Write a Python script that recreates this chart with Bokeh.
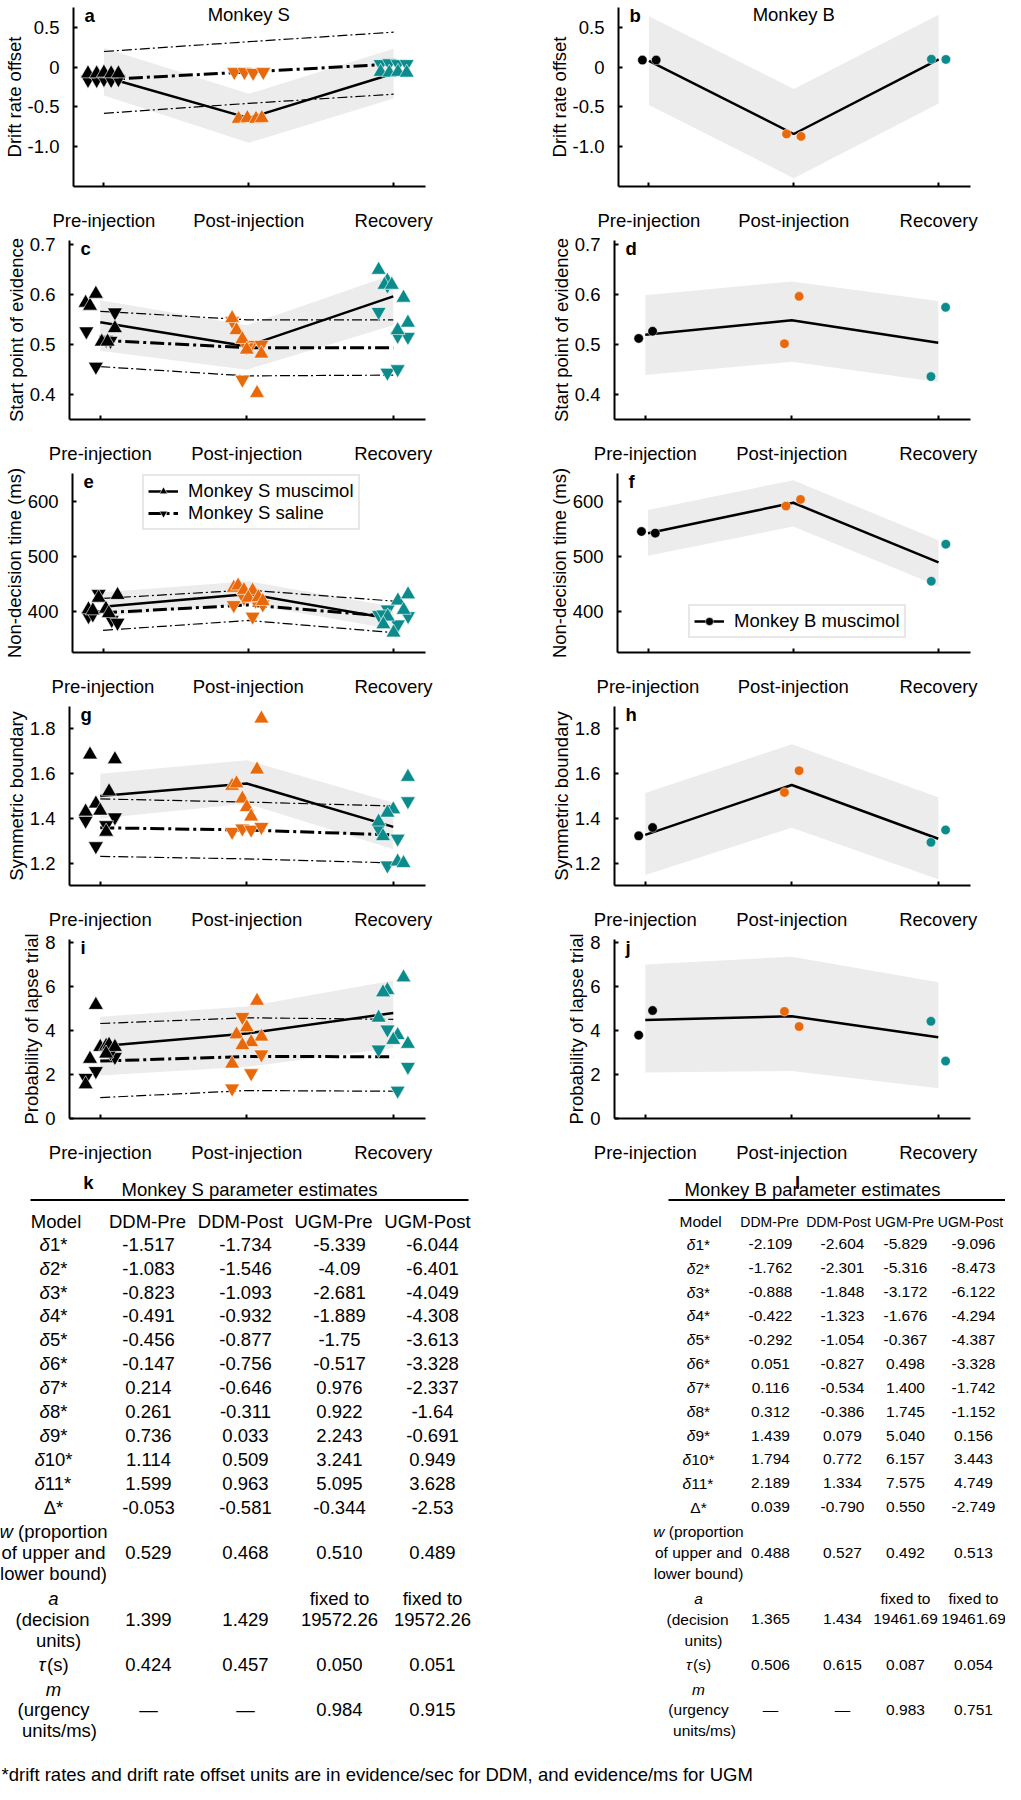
from bokeh.plotting import figure
from bokeh.models import Range1d, FixedTicker, Label, Legend, LegendItem
from bokeh.layouts import column, row
from bokeh.embed import file_html
from bokeh.resources import INLINE
from bokeh.core.properties import value

FONT = "Liberation Sans"
FS = "18.5px"
PHASE_COLORS = {1: "#000000", 2: "#e8690b", 3: "#0b8b8b"}
BAND = "#ececec"

phase_x = [1, 2, 3]
phase_labels = ["Pre-injection", "Post-injection", "Recovery"]

# ---------------- Monkey S panels (a, c, e, g, i) ----------------
a_mus_mean = [-0.12, -0.64, -0.08]
a_mus_lo = [-0.355, -0.95, -0.395]
a_mus_hi = [0.24, -0.335, 0.23]
a_sal_mean = [-0.155, -0.06, 0.04]
a_sal_lo = [-0.58, -0.455, -0.34]
a_sal_hi = [0.197, 0.32, 0.44]
a_mus_phase = [1, 1, 1, 1, 1, 2, 2, 2, 2, 3, 3, 3, 3]
a_mus_jit = [-0.11, -0.05, 0.0, 0.05, 0.10, -0.07, -0.01, 0.05, 0.09, -0.09, -0.03, 0.03, 0.09]
a_mus_val = [-0.08, -0.08, -0.07, -0.08, -0.08, -0.65, -0.64, -0.65, -0.64, -0.06, -0.07, -0.06, -0.07]
a_sal_phase = [1, 1, 1, 1, 1, 2, 2, 2, 2, 3, 3, 3, 3]
a_sal_jit = [-0.11, -0.05, 0.0, 0.05, 0.10, -0.10, -0.03, 0.03, 0.10, -0.09, -0.03, 0.03, 0.09]
a_sal_val = [-0.16, -0.16, -0.15, -0.16, -0.15, -0.06, -0.06, -0.07, -0.06, 0.04, 0.05, 0.04, 0.04]

c_mus_mean = [0.545, 0.497, 0.597]
c_mus_lo = [0.488, 0.45, 0.539]
c_mus_hi = [0.589, 0.539, 0.641]
c_sal_mean = [0.509, 0.494, 0.494]
c_sal_lo = [0.456, 0.4375, 0.439]
c_sal_hi = [0.567, 0.55, 0.55]
c_mus_phase = [1, 1, 1, 1, 1, 1, 2, 2, 2, 2, 2, 2, 3, 3, 3, 3, 3, 3, 3]
c_mus_jit = [-0.10, -0.07, -0.03, 0.10, 0.01, 0.05, -0.10, -0.07, -0.03, 0.0, 0.10, 0.07,
             -0.10, -0.04, -0.06, -0.01, 0.07, 0.10, 0.03]
c_mus_val = [0.584, 0.578, 0.602, 0.533, 0.506, 0.506, 0.553, 0.529, 0.511, 0.49, 0.482, 0.403,
             0.65, 0.628, 0.62, 0.62, 0.594, 0.544, 0.529]
c_sal_phase = [1, 1, 1, 1, 1, 2, 2, 2, 2, 2, 3, 3, 3, 3, 3, 3]
c_sal_jit = [-0.095, 0.10, -0.03, 0.04, 0.07, -0.10, 0.03, 0.10, -0.03, 0.0, -0.04, -0.10, 0.03, 0.10, -0.04, 0.03]
c_sal_val = [0.527, 0.565, 0.456, 0.51, 0.508, 0.548, 0.5, 0.5, 0.43, 0.495, 0.619, 0.566, 0.518, 0.516, 0.444, 0.451]

e_mus_mean = [409, 432, 386]
e_mus_lo = [391, 414, 368]
e_mus_hi = [435, 455, 409]
e_sal_mean = [398, 412, 391]
e_sal_lo = [366, 384, 362]
e_sal_hi = [424, 439, 419]
e_mus_phase = [1, 1, 1, 1, 1, 1, 2, 2, 2, 2, 2, 2, 2, 3, 3, 3, 3, 3, 3]
e_mus_jit = [-0.03, 0.10, -0.10, -0.07, 0.02, 0.04, -0.10, -0.07, -0.03, 0.03, 0.0, 0.07, 0.10,
             0.03, 0.10, 0.07, -0.04, 0.0, -0.07]
e_mus_val = [425, 430, 404, 402, 405, 397, 443, 447, 439, 438, 425, 426, 419,
             420, 431, 403, 391, 362, 377]
e_sal_phase = [1, 1, 1, 1, 1, 2, 2, 2, 2, 2, 3, 3, 3, 3, 3]
e_sal_jit = [-0.03, -0.10, -0.07, 0.06, 0.10, -0.10, -0.03, 0.10, 0.03, 0.05, -0.10, -0.04, 0.10, 0.03, -0.07]
e_sal_val = [432, 392, 395, 385, 380, 412, 425, 413, 391, 420, 394, 404, 392, 377, 395]

g_mus_mean = [1.50, 1.556, 1.362]
g_mus_lo = [1.40, 1.466, 1.262]
g_mus_hi = [1.60, 1.66, 1.47]
g_sal_mean = [1.358, 1.348, 1.326]
g_sal_lo = [1.23, 1.219, 1.201]
g_sal_hi = [1.487, 1.473, 1.455]
g_mus_phase = [1, 1, 1, 1, 1, 1, 1, 2, 2, 2, 2, 2, 2, 2, 3, 3, 3, 3, 3, 3, 3]
g_mus_jit = [-0.07, 0.10, 0.06, -0.03, 0.0, -0.10, 0.04, 0.10, 0.07, -0.10, -0.07, -0.03, 0.0, 0.03,
             0.10, 0.0, -0.04, -0.10, -0.07, 0.03, 0.07]
g_mus_val = [1.685, 1.664, 1.52, 1.466, 1.434, 1.43, 1.34, 1.846, 1.618, 1.545, 1.556, 1.488, 1.45, 1.408,
             1.585, 1.44, 1.425, 1.385, 1.32, 1.207, 1.2]
g_sal_phase = [1, 1, 1, 1, 2, 2, 2, 2, 3, 3, 3, 3]
g_sal_jit = [-0.10, 0.10, 0.04, -0.03, -0.10, -0.03, 0.03, 0.10, 0.10, -0.10, 0.03, -0.04]
g_sal_val = [1.39, 1.405, 1.37, 1.276, 1.34, 1.355, 1.35, 1.362, 1.477, 1.355, 1.31, 1.19]

i_mus_mean = [3.29, 3.86, 4.8]
i_mus_lo = [1.95, 2.35, 3.21]
i_mus_hi = [4.63, 5.09, 6.28]
i_sal_mean = [2.61, 2.82, 2.81]
i_sal_lo = [0.95, 1.27, 1.24]
i_sal_hi = [4.32, 4.58, 4.51]
i_mus_phase = [1, 1, 1, 1, 1, 1, 1, 1, 2, 2, 2, 2, 2, 2, 2, 3, 3, 3, 3, 3, 3, 3]
i_mus_jit = [-0.03, -0.07, -0.10, 0.0, 0.04, 0.06, 0.10, 0.04, 0.07, 0.0, -0.07, 0.10, 0.03, -0.03, -0.10,
             0.07, -0.04, -0.07, -0.10, 0.03, 0.0, 0.10]
i_mus_val = [5.16, 2.71, 1.55, 3.25, 3.3, 3.35, 3.25, 2.95, 5.35, 4.14, 3.82, 3.72, 3.47, 3.33, 2.49,
             6.41, 5.84, 5.73, 4.58, 3.79, 3.57, 3.39]
i_sal_phase = [1, 1, 1, 1, 2, 2, 2, 2, 3, 3, 3, 3]
i_sal_jit = [-0.03, -0.10, 0.10, 0.07, -0.03, 0.10, 0.03, -0.10, -0.04, -0.10, 0.10, 0.03]
i_sal_val = [2.16, 1.85, 2.8, 3.0, 4.62, 2.92, 2.06, 1.37, 4.05, 3.14, 2.35, 1.27]

# ---------------- Monkey B panels (b, d, f, h, j) ----------------
B_phase = [1, 1, 2, 2, 3, 3]
B_jit = [-0.045, 0.05, -0.05, 0.05, -0.05, 0.05]

b_mean = [0.08, -0.84, 0.097]
b_lo = [-0.476, -1.395, -0.456]
b_hi = [0.64, -0.274, 0.66]
b_val = [0.089, 0.089, -0.84, -0.87, 0.10, 0.097]

d_mean = [0.52, 0.549, 0.504]
d_lo = [0.439, 0.466, 0.425]
d_hi = [0.599, 0.627, 0.5875]
d_val = [0.5125, 0.527, 0.502, 0.597, 0.436, 0.575]

f_mean = [542, 597, 489]
f_lo = [501, 554, 446]
f_hi = [584, 638, 529]
f_val = [545, 542, 591, 603, 455, 522]

h_mean = [1.326, 1.549, 1.309]
h_lo = [1.147, 1.358, 1.128]
h_hi = [1.513, 1.731, 1.494]
h_val = [1.322, 1.359, 1.516, 1.613, 1.293, 1.348]

j_mean = [4.48, 4.65, 3.69]
j_lo = [2.09, 2.16, 1.37]
j_hi = [7.0, 7.36, 6.2]
j_val = [3.79, 4.91, 4.87, 4.18, 4.42, 2.61]

# axes
y_labels = ["Drift rate offset", "Start point of evidence", "Non-decision time (ms)",
            "Symmetric boundary", "Probability of lapse trial"]
y_ranges = [(-1.5, 0.75), (0.35, 0.709), (326, 650), (1.1, 1.9), (0, 8.14)]
y_ticks = [[-1.0, -0.5, 0.0, 0.5], [0.4, 0.5, 0.6, 0.7], [400, 500, 600], [1.2, 1.4, 1.6, 1.8], [0, 2, 4, 6, 8]]
y_tick_text = [["-1.0", "-0.5", "0", "0.5"], ["0.4", "0.5", "0.6", "0.7"], ["400", "500", "600"],
               ["1.2", "1.4", "1.6", "1.8"], ["0", "2", "4", "6", "8"]]

# ---------------- tables ----------------
col_names = ["DDM-Pre", "DDM-Post", "UGM-Pre", "UGM-Post"]
s_delta = [
    ["-1.517", "-1.734", "-5.339", "-6.044"],
    ["-1.083", "-1.546", "-4.09", "-6.401"],
    ["-0.823", "-1.093", "-2.681", "-4.049"],
    ["-0.491", "-0.932", "-1.889", "-4.308"],
    ["-0.456", "-0.877", "-1.75", "-3.613"],
    ["-0.147", "-0.756", "-0.517", "-3.328"],
    ["0.214", "-0.646", "0.976", "-2.337"],
    ["0.261", "-0.311", "0.922", "-1.64"],
    ["0.736", "0.033", "2.243", "-0.691"],
    ["1.114", "0.509", "3.241", "0.949"],
    ["1.599", "0.963", "5.095", "3.628"]]
s_Delta = ["-0.053", "-0.581", "-0.344", "-2.53"]
s_w = ["0.529", "0.468", "0.510", "0.489"]
s_a = ["1.399", "1.429", "19572.26", "19572.26"]
s_tau = ["0.424", "0.457", "0.050", "0.051"]
s_m = ["\u2014", "\u2014", "0.984", "0.915"]

b_delta = [
    ["-2.109", "-2.604", "-5.829", "-9.096"],
    ["-1.762", "-2.301", "-5.316", "-8.473"],
    ["-0.888", "-1.848", "-3.172", "-6.122"],
    ["-0.422", "-1.323", "-1.676", "-4.294"],
    ["-0.292", "-1.054", "-0.367", "-4.387"],
    ["0.051", "-0.827", "0.498", "-3.328"],
    ["0.116", "-0.534", "1.400", "-1.742"],
    ["0.312", "-0.386", "1.745", "-1.152"],
    ["1.439", "0.079", "5.040", "0.156"],
    ["1.794", "0.772", "6.157", "3.443"],
    ["2.189", "1.334", "7.575", "4.749"]]
b_Delta = ["0.039", "-0.790", "0.550", "-2.749"]
b_w = ["0.488", "0.527", "0.492", "0.513"]
b_a = ["1.365", "1.434", "19461.69", "19461.69"]
b_tau = ["0.506", "0.615", "0.087", "0.054"]
b_m = ["\u2014", "\u2014", "0.983", "0.751"]

footnote = "*drift rates and drift rate offset units are in evidence/sec for DDM, and evidence/ms for UGM"

# ---------------- layout constants ----------------
ROW_H = 233
BL, BT, BB = 69, 7, 45
FRAME_W = 356
FRAME_H = ROW_H - BT - BB
LEFT_W, RIGHT_W = 545, 460


def base_fig(width, rb, k, letter):
    p = figure(width=width, height=ROW_H, x_range=Range1d(0.79, 3.22), y_range=Range1d(*y_ranges[k]),
               output_backend="svg", toolbar_location=None,
               min_border_left=BL, min_border_right=rb, min_border_top=BT, min_border_bottom=BB)
    p.outline_line_color = None
    p.xgrid.visible = False
    p.ygrid.visible = False
    for ax in (p.xaxis[0], p.yaxis[0]):
        ax.axis_line_width = 2
        ax.axis_line_color = "black"
        ax.major_tick_line_width = 2
        ax.major_tick_line_color = "black"
        ax.major_tick_in = 4
        ax.major_tick_out = 0
        ax.minor_tick_line_color = None
        ax.major_label_text_font = FONT
        ax.major_label_text_font_size = FS
        ax.major_label_text_color = "black"
    p.xaxis.ticker = FixedTicker(ticks=phase_x)
    p.xaxis.major_label_overrides = {x: l for x, l in zip(phase_x, phase_labels)}
    p.xaxis.major_label_standoff = 23
    p.yaxis.ticker = FixedTicker(ticks=y_ticks[k])
    p.yaxis.major_label_overrides = {t: l for t, l in zip(y_ticks[k], y_tick_text[k])}
    p.yaxis.major_label_standoff = 14
    p.yaxis.axis_label = y_labels[k]
    p.yaxis.axis_label_text_font = FONT
    p.yaxis.axis_label_text_font_size = FS
    p.yaxis.axis_label_text_font_style = "normal"
    p.yaxis.axis_label_text_color = "black"
    p.yaxis.axis_label_standoff = 0
    p.add_layout(Label(x=11, y=FRAME_H - 10, x_units="screen", y_units="screen", text=letter,
                       text_font=FONT, text_font_size=FS, text_font_style="bold", text_color="black",
                       text_baseline="middle", text_align="left"))
    return p


def draw_S(p, mm, ml, mh, sm, sl, sh, mph, mj, mv, sph, sj, sv):
    p.varea(x=phase_x, y1=ml, y2=mh, fill_color=BAND)
    p.line(phase_x, sh, line_color="black", line_width=1.2, line_dash="10 3 2 3")
    p.line(phase_x, sl, line_color="black", line_width=1.2, line_dash="10 3 2 3")
    r_sal = p.line(phase_x, sm, line_color="black", line_width=3, line_dash="14 4 3 4")
    r_mus = p.line(phase_x, mm, line_color="black", line_width=2.5)
    s_sal = p.scatter(x=[a + b for a, b in zip(sph, sj)], y=sv, marker="inverted_triangle", size=15,
                      fill_color=[PHASE_COLORS[q] for q in sph], line_color="white", line_width=0.6)
    s_mus = p.scatter(x=[a + b for a, b in zip(mph, mj)], y=mv, marker="triangle", size=15,
                      fill_color=[PHASE_COLORS[q] for q in mph], line_color="white", line_width=0.6)
    return r_mus, s_mus, r_sal, s_sal


def draw_B(p, mean, lo, hi, vals):
    p.varea(x=phase_x, y1=lo, y2=hi, fill_color=BAND)
    r = p.line(phase_x, mean, line_color="black", line_width=2.5)
    s = p.scatter(x=[a + b for a, b in zip(B_phase, B_jit)], y=vals, marker="circle", size=9.5,
                  fill_color=[PHASE_COLORS[q] for q in B_phase], line_color="white", line_width=0.5)
    return r, s


S_data = [
    (a_mus_mean, a_mus_lo, a_mus_hi, a_sal_mean, a_sal_lo, a_sal_hi, a_mus_phase, a_mus_jit, a_mus_val, a_sal_phase, a_sal_jit, a_sal_val),
    (c_mus_mean, c_mus_lo, c_mus_hi, c_sal_mean, c_sal_lo, c_sal_hi, c_mus_phase, c_mus_jit, c_mus_val, c_sal_phase, c_sal_jit, c_sal_val),
    (e_mus_mean, e_mus_lo, e_mus_hi, e_sal_mean, e_sal_lo, e_sal_hi, e_mus_phase, e_mus_jit, e_mus_val, e_sal_phase, e_sal_jit, e_sal_val),
    (g_mus_mean, g_mus_lo, g_mus_hi, g_sal_mean, g_sal_lo, g_sal_hi, g_mus_phase, g_mus_jit, g_mus_val, g_sal_phase, g_sal_jit, g_sal_val),
    (i_mus_mean, i_mus_lo, i_mus_hi, i_sal_mean, i_sal_lo, i_sal_hi, i_mus_phase, i_mus_jit, i_mus_val, i_sal_phase, i_sal_jit, i_sal_val),
]
B_data = [(b_mean, b_lo, b_hi, b_val), (d_mean, d_lo, d_hi, d_val), (f_mean, f_lo, f_hi, f_val),
          (h_mean, h_lo, h_hi, h_val), (j_mean, j_lo, j_hi, j_val)]
left_letters = ["a", "c", "e", "g", "i"]
right_letters = ["b", "d", "f", "h", "j"]


def legend_style(lg):
    lg.border_line_color = "#cfcfcf"
    lg.border_line_width = 2
    lg.background_fill_color = "white"
    lg.background_fill_alpha = 1
    lg.label_text_font = FONT
    lg.label_text_font_size = FS
    lg.label_text_color = "black"
    lg.glyph_width = 30
    lg.glyph_height = 20
    lg.label_height = 20
    lg.label_standoff = 10
    lg.spacing = 0
    lg.padding = 4
    lg.margin = 0


rows = []
for k in range(5):
    pl = base_fig(LEFT_W, LEFT_W - BL - FRAME_W, k, left_letters[k])
    r_mus, s_mus, r_sal, s_sal = draw_S(pl, *S_data[k])
    pr = base_fig(RIGHT_W, RIGHT_W - BL - FRAME_W, k, right_letters[k])
    rb_line, rb_sc = draw_B(pr, *B_data[k])
    if k == 0:
        for p, t in ((pl, "Monkey S"), (pr, "Monkey B")):
            p.add_layout(Label(x=2, y=FRAME_H + BT - 5, x_units="data", y_units="screen", text=t,
                               text_font=FONT, text_font_size=FS, text_color="black",
                               text_align="center", text_baseline="top"))
    if k == 2:
        lg = Legend(items=[LegendItem(label="Monkey S muscimol", renderers=[r_mus, s_mus], index=0),
                           LegendItem(label="Monkey S saline", renderers=[r_sal, s_sal], index=0)],
                    location=(70, FRAME_H - 11 - 48))
        legend_style(lg)
        pl.add_layout(lg)
        lg2 = Legend(items=[LegendItem(label="Monkey B muscimol", renderers=[rb_line, rb_sc], index=0)],
                     location=(71, 14))
        legend_style(lg2)
        pr.add_layout(lg2)
    rows.append(row(pl, pr))

# ---------------- table figure ----------------
TOP = 8 + 5 * ROW_H
BOTTOM = 1792
tb = figure(width=1005, height=BOTTOM - TOP, x_range=Range1d(8, 1013), y_range=Range1d(BOTTOM, TOP),
            output_backend="svg", toolbar_location=None, x_axis_type=None, y_axis_type=None, min_border=0)
tb.outline_line_color = None

CW = {" ": .278, "(": .333, ")": .333, "*": .389, "-": .333, ".": .278, "/": .278,
      "a": .556, "b": .556, "c": .5, "d": .556, "e": .556, "f": .278, "g": .556, "i": .222,
      "l": .222, "m": .833, "n": .556, "o": .556, "p": .556, "r": .333, "s": .5, "t": .278,
      "u": .556, "w": .722, "y": .5, "\u03b4": .556, "\u03c4": .46}


def tw(s, size):
    return sum(CW.get(ch, .556) for ch in s) * size


def txt(xs, ys, texts, size, align="center", style="normal"):
    tb.text(x=xs, y=ys, text=texts, text_font=value(FONT), text_font_size=value(f"{size}px"),
            text_font_style=style, text_align=align, text_baseline="middle", text_color="black")


def mixed(cx, y, segs, size):
    total = sum(tw(s, size) for s, _ in segs)
    x0 = cx - total / 2
    for s, it in segs:
        if s.strip():
            txt([x0], [y], [s], size, align="left", style="italic" if it else "normal")
        x0 += tw(s, size)


def Y(ref):
    return TOP + (ref - TOP) * 0.984


ROWP = 24.3
LINEP = 21


def draw_table(letter, title, delta, Delta, w, a, tau, m, lab_x, head_x, val_x, rule, title_x, letter_x,
               head_size, size):
    txt([letter_x], [Y(1190)], [letter], 18.5, style="bold")
    txt([title_x], [Y(1197)], [title], 18.5)
    tb.segment(x0=[rule[0]], y0=[Y(1208)], x1=[rule[1]], y1=[Y(1208)], line_color="black", line_width=2)
    txt([lab_x - tw("Model", size) / 2], [Y(1230)], ["Model"], size, align="left")
    txt(head_x, [Y(1230)] * 4, col_names, head_size)
    y = 1253
    for idx, vals in enumerate(delta):
        mixed(lab_x, Y(y), [("\u03b4", True), (f"{idx + 1}*", False)], size)
        txt(val_x, [Y(y)] * 4, vals, size)
        y += ROWP
    txt([lab_x], [Y(y)], ["\u0394*"], size)
    txt(val_x, [Y(y)] * 4, Delta, size)
    y += ROWP + 0.7
    mixed(lab_x, Y(y), [("w ", True), ("(proportion", False)], size)
    txt([lab_x], [Y(y + LINEP)], ["of upper and"], size)
    txt([lab_x], [Y(y + 2 * LINEP)], ["lower bound)"], size)
    txt(val_x, [Y(y + LINEP)] * 4, w, size)
    y += 2 * LINEP + 26
    mixed(lab_x, Y(y), [("a", True)], size)
    txt([lab_x - 1], [Y(y + LINEP)], ["(decision"], size)
    txt([lab_x + 5], [Y(y + 2 * LINEP)], ["units)"], size)
    txt(val_x[2:], [Y(y)] * 2, ["fixed to", "fixed to"], size)
    txt(val_x, [Y(y + LINEP)] * 4, a, size)
    y += 2 * LINEP + 25
    mixed(lab_x, Y(y), [("\u03c4", True), ("(s)", False)], size)
    txt(val_x, [Y(y)] * 4, tau, size)
    y += 25
    mixed(lab_x, Y(y), [("m", True)], size)
    txt([lab_x], [Y(y + LINEP)], ["(urgency"], size)
    txt([lab_x + 6], [Y(y + 2 * LINEP)], ["units/ms)"], size)
    txt(val_x, [Y(y + LINEP)] * 4, m, size)


draw_table("k", "Monkey S parameter estimates", s_delta, s_Delta, s_w, s_a, s_tau, s_m,
           lab_x=61, head_x=[155, 248, 341, 435], val_x=[156, 253, 347, 440],
           rule=(38, 476), title_x=257, letter_x=96, head_size=18.5, size=18.5)
draw_table("l", "Monkey B parameter estimates", b_delta, b_Delta, b_w, b_a, b_tau, b_m,
           lab_x=706, head_x=[777, 846, 912, 978], val_x=[778, 850, 913, 981],
           rule=(676, 1013), title_x=820, letter_x=805, head_size=14, size=15.5)
txt([9], [Y(1792)], [footnote], 18.5, align="left")

layout = column(*rows, tb)
open("out.html", "w").write(file_html(layout, INLINE))
